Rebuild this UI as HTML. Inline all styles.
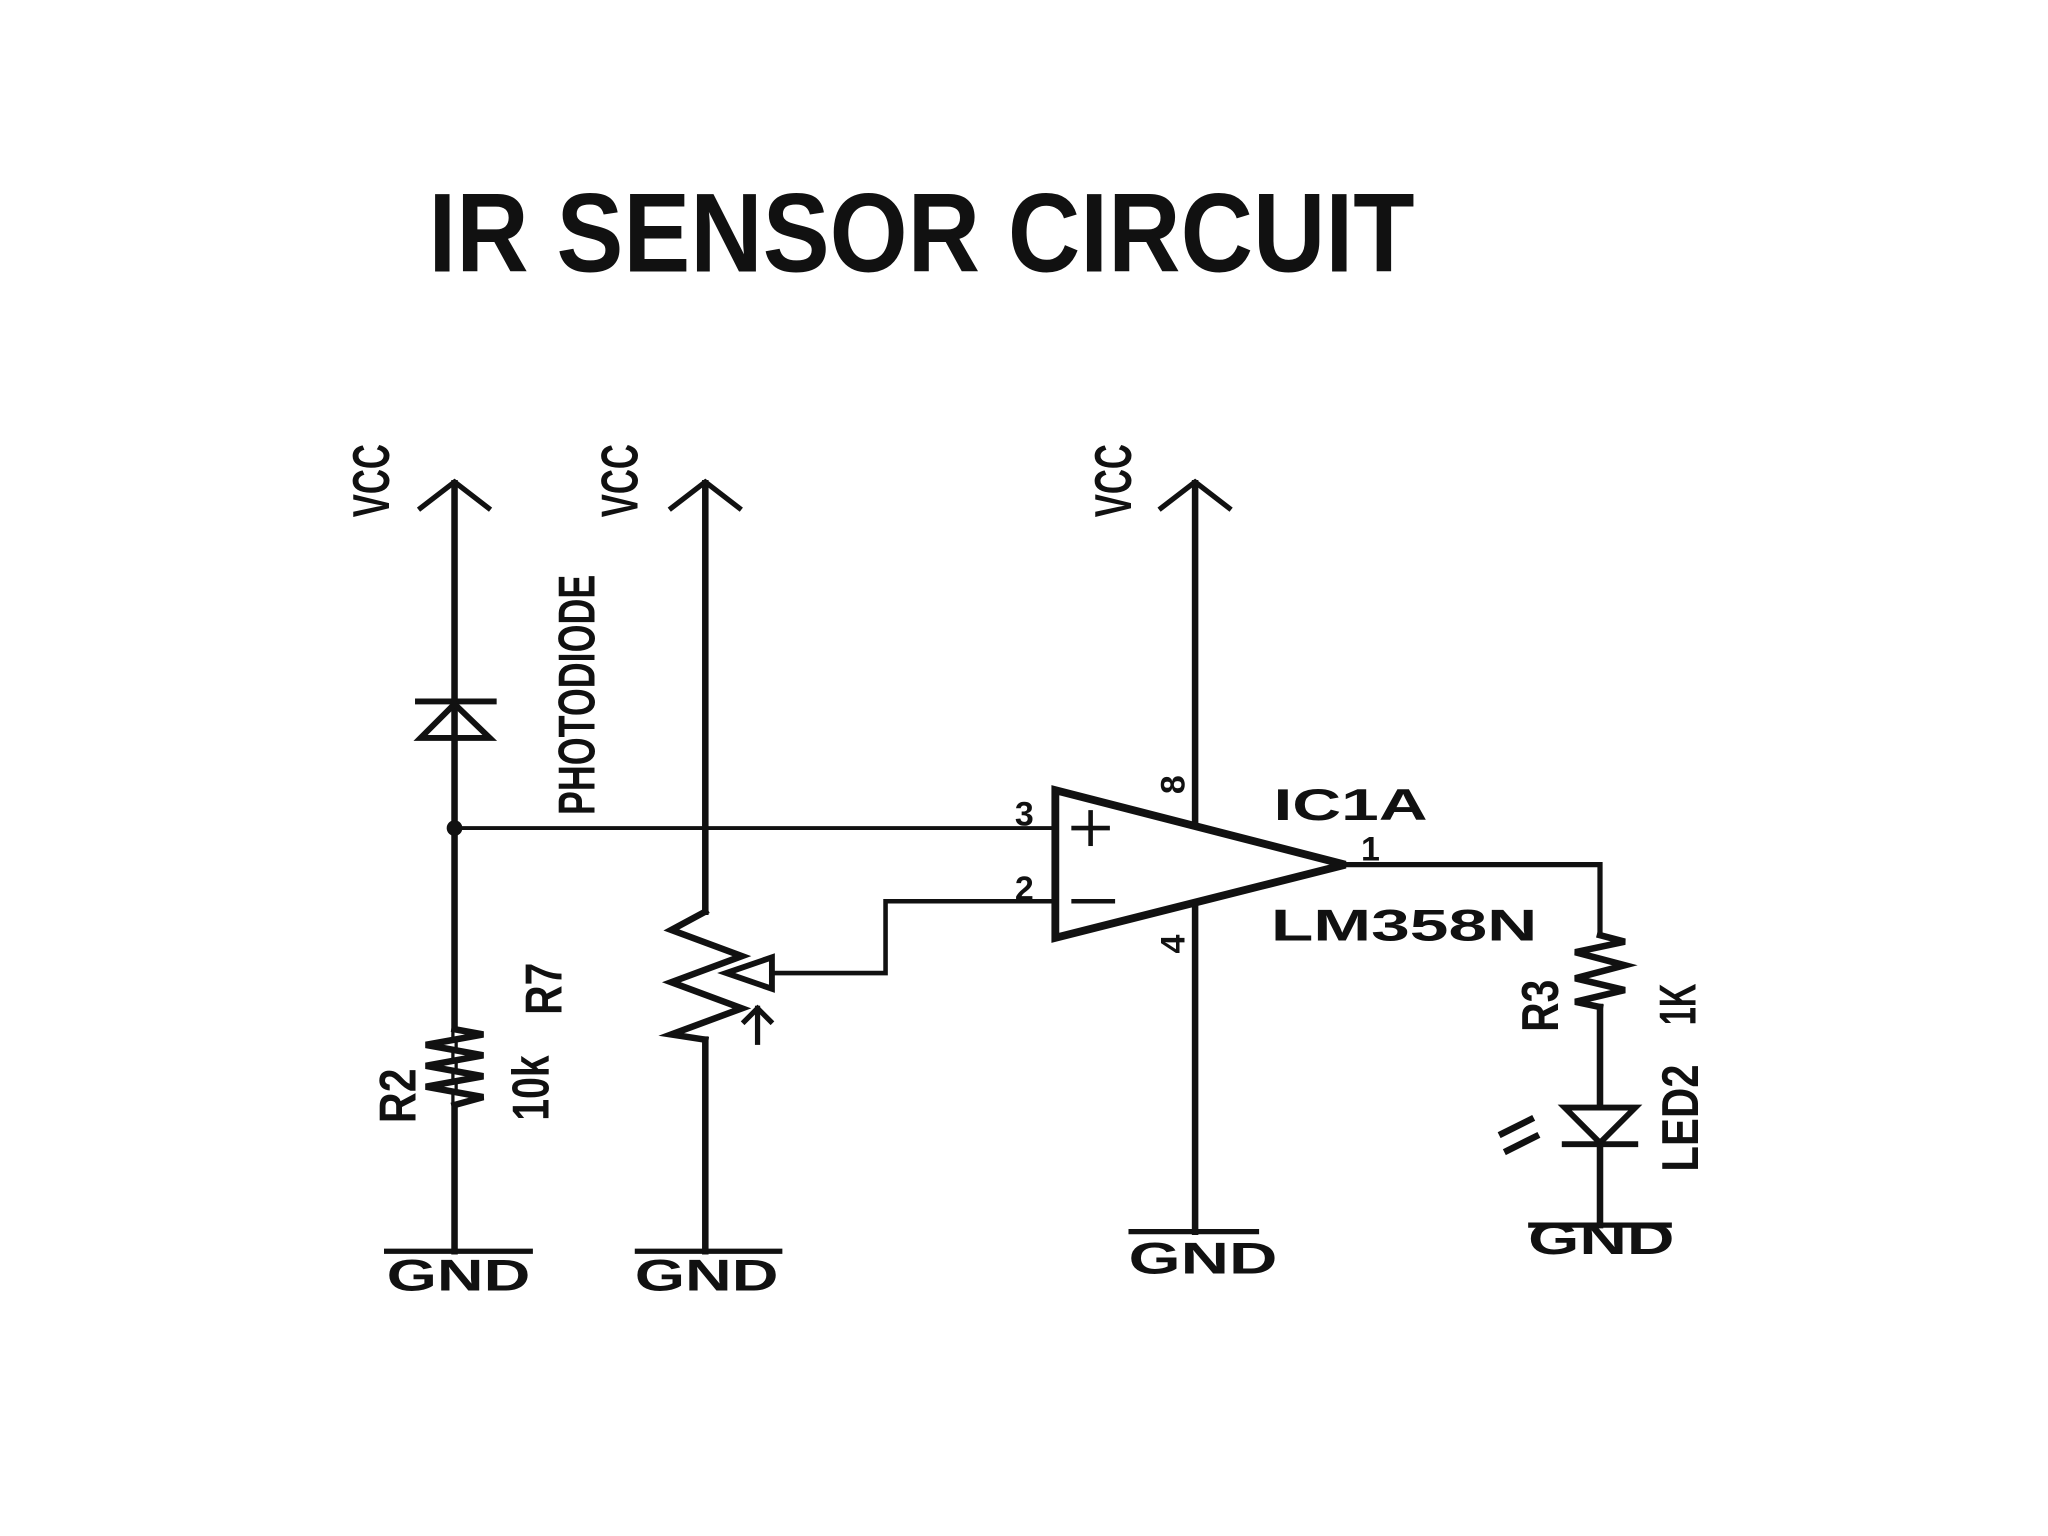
<!DOCTYPE html>
<html><head><meta charset="utf-8"><style>
html,body{margin:0;padding:0;background:#fff;}
svg{display:block;}
text{font-family:"Liberation Sans",sans-serif;fill:#111;}
</style></head><body>
<svg width="2048" height="1536" viewBox="0 0 1568 1176" xmlns="http://www.w3.org/2000/svg">
<rect width="1568" height="1176" fill="#fff"/>
<text x="328" y="208" font-size="86" font-weight="bold" textLength="755" lengthAdjust="spacingAndGlyphs">IR SENSOR CIRCUIT</text>
<g stroke="#111" fill="none" stroke-linecap="square">
 <line x1="348" y1="370" x2="348" y2="958" stroke-width="5"/>
 <polyline points="322,389 348,369 374,389" stroke-width="4"/>
 <line x1="320" y1="537" x2="378" y2="537" stroke-width="4.5"/>
 <polygon points="348,539 322,565 375,565" stroke-width="4.5"/>
 <line x1="348" y1="634" x2="808" y2="634" stroke-width="3"/>
 <polyline points="348,788 370,792 326,800 370,808 326,816 370,824 326,832 370,840 348,846" stroke-width="5" stroke-linejoin="miter" fill="#fff"/>
 <line x1="296" y1="958" x2="406" y2="958" stroke-width="4"/>
 <line x1="540" y1="370" x2="540" y2="698" stroke-width="5"/>
 <polyline points="514,389 540,369 566,389" stroke-width="4"/>
 <polyline points="540,698 514,712 568,732 514,752 568,772 514,792 540,796" stroke-width="5" fill="#fff"/>
 <line x1="540" y1="796" x2="540" y2="958" stroke-width="5"/>
 <line x1="488" y1="958" x2="597" y2="958" stroke-width="4"/>
 <polygon points="556,745 591,733 591,757" stroke-width="4.5"/>
 <line x1="580" y1="772" x2="580" y2="798" stroke-width="4"/>
 <polyline points="570,782 580,772 590,782" stroke-width="4"/>
 <polyline points="591,745 678,745 678,690 808,690" stroke-width="3.5"/>
 <line x1="915" y1="370" x2="915" y2="943" stroke-width="5"/>
 <polyline points="889,389 915,369 941,389" stroke-width="4"/>
 <line x1="866" y1="943" x2="962" y2="943" stroke-width="4"/>
 <polygon points="808,605 808,718 1030,662" stroke-width="6" stroke-linejoin="miter" fill="#fff"/>
 <line x1="835" y1="622" x2="835" y2="646" stroke-width="3.5"/>
 <line x1="822" y1="634" x2="848" y2="634" stroke-width="3.5"/>
 <line x1="822" y1="690" x2="852" y2="690" stroke-width="3.5"/>
 <polyline points="1030,662 1225,662 1225,716" stroke-width="4"/>
 <polyline points="1225,716 1244,721 1206,729 1244,739 1206,749 1244,758 1206,767 1225,771" stroke-width="5" fill="#fff"/>
 <line x1="1225" y1="771" x2="1225" y2="938" stroke-width="5"/>
 <polygon points="1198,848 1252,848 1225,875" stroke-width="4.5" fill="#fff"/>
 <line x1="1198" y1="876" x2="1252" y2="876" stroke-width="4.5"/>
 <line x1="1172" y1="938" x2="1278" y2="938" stroke-width="4"/>
 <line x1="1150" y1="868" x2="1172" y2="857" stroke-width="5"/>
 <line x1="1154" y1="881" x2="1176" y2="870" stroke-width="5"/>
</g>
<circle cx="348" cy="634" r="6" fill="#111"/>
<g font-size="40" font-weight="bold">
 <text transform="translate(298,396) rotate(-90)" textLength="56" lengthAdjust="spacingAndGlyphs">VCC</text>
 <text transform="translate(488,396) rotate(-90)" textLength="56" lengthAdjust="spacingAndGlyphs">VCC</text>
 <text transform="translate(866,396) rotate(-90)" textLength="56" lengthAdjust="spacingAndGlyphs">VCC</text>
 <text transform="translate(455,624) rotate(-90)" textLength="184" lengthAdjust="spacingAndGlyphs">PHOTODIODE</text>
 <text transform="translate(430,777) rotate(-90)" textLength="40" lengthAdjust="spacingAndGlyphs">R7</text>
 <text transform="translate(318,860) rotate(-90)" textLength="42" lengthAdjust="spacingAndGlyphs">R2</text>
 <text transform="translate(420,858) rotate(-90)" textLength="50" lengthAdjust="spacingAndGlyphs">10k</text>
 <text transform="translate(1193,790) rotate(-90)" textLength="40" lengthAdjust="spacingAndGlyphs">R3</text>
 <text transform="translate(1298,785) rotate(-90)" textLength="32" lengthAdjust="spacingAndGlyphs">1K</text>
 <text transform="translate(1300,897) rotate(-90)" textLength="82" lengthAdjust="spacingAndGlyphs">LED2</text>
</g>
<g font-size="34" font-weight="bold">
 <text x="296" y="988" textLength="110" lengthAdjust="spacingAndGlyphs">GND</text>
 <text x="486" y="988" textLength="110" lengthAdjust="spacingAndGlyphs">GND</text>
 <text x="864" y="975" textLength="114" lengthAdjust="spacingAndGlyphs">GND</text>
 <text x="1170" y="960" textLength="112" lengthAdjust="spacingAndGlyphs">GND</text>
 <text x="975" y="628" textLength="118" lengthAdjust="spacingAndGlyphs">IC1A</text>
 <text x="973" y="720" textLength="204" lengthAdjust="spacingAndGlyphs">LM358N</text>
</g>
<g font-size="26" font-weight="bold">
 <text x="777" y="632">3</text>
 <text x="777" y="689">2</text>
 <text x="1042" y="659">1</text>
 <text transform="translate(907,608) rotate(-90)">8</text>
 <text transform="translate(907,730) rotate(-90)">4</text>
</g>
</svg>
</body></html>
